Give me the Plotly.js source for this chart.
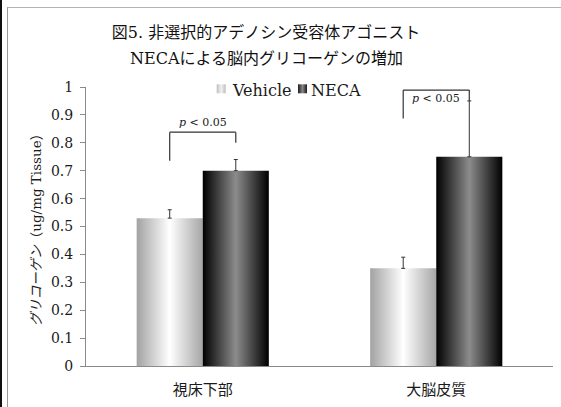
<!DOCTYPE html>
<html>
<head>
<meta charset="utf-8">
<script src="https://cdn.plot.ly/plotly-3.0.1.min.js"></script>
<style>
  html, body { margin: 0; padding: 0; background: #fff; overflow: hidden; width: 561px; height: 407px; }
  #wrap { position: relative; width: 561px; height: 407px; overflow: hidden; }
  #chart { position: absolute; left: 0; top: 0; width: 561px; height: 407px; }
  #frame { position: absolute; left: 7px; top: 7px; width: 600px; height: 450px;
           border-left: 1px solid #9a9a9a; border-top: 1px solid #b4b4b4; pointer-events: none; }
  #strip { position: absolute; left: 0; top: 0; width: 2px; height: 407px; background: #111; }
</style>
</head>
<body>
<div id="wrap">
  <div id="chart"></div>
  <div id="frame"></div>
  <div id="strip"></div>
</div>
<script>
// Brain regions and glycogen content (ug/mg tissue), mean and SEM
const categories = ['視床下部', '大脳皮質'];
const vehicleValues = [0.53, 0.35];
const vehicleErrors = [0.03, 0.04];
const necaValues = [0.70, 0.75];
const necaErrors = [0.04, 0.20];
const seriesNames = ['Vehicle', 'NECA'];
const yTickValues = [0, 0.1, 0.2, 0.3, 0.4, 0.5, 0.6, 0.7, 0.8, 0.9, 1];
const titleLines = ['図5. 非選択的アデノシン受容体アゴニスト', 'NECAによる脳内グリコーゲンの増加'];
const sigLabel = '<i>p</i> &lt; 0.05';

const SERIF = '"DejaVu Serif", "Noto Sans CJK JP", serif';
const CJK = '"Noto Sans CJK JP", "DejaVu Serif", sans-serif';

// plot area geometry (px) used to place the hand-made legend and title
const M = { l: 86, r: 8, t: 87, b: 41 };
const W = 561, H = 407;
const PW = W - M.l - M.r, PH = H - M.t - M.b;
const px2x = px => (px - M.l) / PW;
const px2y = py => (H - M.b - py) / PH;

const BARGAP = 0.434;
const off = (1 - BARGAP) / 4;   // centre offset of each bar in its group

// flat placeholder colours, swapped for gradients after drawing
const VEH_KEY = '#c9c9c9';
const NECA_KEY = '#3d3d3d';
const VEH_ICON_KEY = '#cacaca';
const NECA_ICON_KEY = '#3e3e3e';

const errStyle = { type: 'data', symmetric: false, visible: true, color: '#333', thickness: 1, width: 2 };

const traces = [
  {
    type: 'bar', name: seriesNames[0], x: categories, y: vehicleValues,
    marker: { color: VEH_KEY, line: { width: 0 } },
    error_y: Object.assign({ array: vehicleErrors, arrayminus: vehicleErrors.map(() => 0) }, errStyle),
    showlegend: false, hoverinfo: 'skip'
  },
  {
    type: 'bar', name: seriesNames[1], x: categories, y: necaValues,
    marker: { color: NECA_KEY, line: { width: 0 } },
    error_y: Object.assign({ array: necaErrors, arrayminus: necaErrors.map(() => 0) }, errStyle),
    showlegend: false, hoverinfo: 'skip'
  }
];

// significance brackets: [category index, top, left foot, right foot, label y]
const brackets = [
  [0, 0.838, 0.736, 0.800, 0.873],
  [1, 0.989, 0.887, 0.950, 0.960]
];

const shapes = [];
const annotations = [];
const bracketLine = { color: '#333', width: 1.2 };
brackets.forEach(([c, top, lf, rf, ty]) => {
  const xl = c - off, xr = c + off;
  shapes.push({ type: 'line', xref: 'x', yref: 'y', x0: xl, x1: xl, y0: lf, y1: top, line: bracketLine });
  shapes.push({ type: 'line', xref: 'x', yref: 'y', x0: xl, x1: xr, y0: top, y1: top, line: bracketLine });
  shapes.push({ type: 'line', xref: 'x', yref: 'y', x0: xr, x1: xr, y0: top, y1: rf, line: bracketLine });
  annotations.push({
    xref: 'x', yref: 'y', x: c, y: ty, text: sigLabel, showarrow: false,
    xanchor: 'center', yanchor: 'middle',
    font: { family: SERIF, size: 11, color: '#222' }
  });
});

// second title line, set a little lower than plotly's own line spacing
annotations.push({
  xref: 'paper', yref: 'paper', x: px2x(266), y: px2y(58),
  xanchor: 'center', yanchor: 'middle', showarrow: false,
  text: titleLines[1], font: { family: SERIF, size: 16, color: '#111' }
});

// legend: small gradient swatches followed by series names
const legendItems = [
  { key: VEH_ICON_KEY, x0: 216.7, textX: 231.7, label: seriesNames[0] },
  { key: NECA_ICON_KEY, x0: 298, textX: 310.7, label: seriesNames[1] }
];
legendItems.forEach(it => {
  shapes.push({
    type: 'rect', xref: 'paper', yref: 'paper',
    x0: px2x(it.x0), x1: px2x(it.x0 + 9), y0: px2y(93.3), y1: px2y(84.3),
    fillcolor: it.key, line: { width: 0 }
  });
  annotations.push({
    xref: 'paper', yref: 'paper', x: px2x(it.textX), y: px2y(90),
    xanchor: 'left', yanchor: 'middle', xshift: -2, showarrow: false,
    text: it.label, font: { family: SERIF, size: 16, color: '#1a1a1a' }
  });
});

const layout = {
  width: W, height: H,
  margin: M,
  paper_bgcolor: '#fff', plot_bgcolor: '#fff',
  barmode: 'group', bargap: BARGAP, bargroupgap: 0,
  showlegend: false,
  title: {
    text: titleLines[0],
    font: { family: SERIF, size: 16, color: '#111' },
    x: 266 / W, xanchor: 'center', xref: 'container',
    y: 1 - 32.5 / H, yanchor: 'middle', yref: 'container'
  },
  xaxis: {
    type: 'category', showgrid: false, zeroline: false,
    showline: true, linecolor: '#8a8a8a', linewidth: 1,
    ticks: '', ticklabelstandoff: 10,
    tickfont: { family: CJK, size: 15, color: '#1a1a1a' },
    fixedrange: true
  },
  yaxis: {
    range: [0, 1], tickvals: yTickValues, ticktext: yTickValues.map(String),
    showgrid: false, zeroline: false,
    showline: true, linecolor: '#8a8a8a', linewidth: 1,
    ticks: 'outside', ticklen: 5, tickcolor: '#8a8a8a', ticklabelstandoff: 4,
    tickfont: { family: SERIF, size: 14, color: '#1a1a1a' },
    title: {
      text: '<i>グリコーゲン</i>（ug/mg Tissue）',
      font: { family: SERIF, size: 13.5, color: '#1a1a1a' },
      standoff: 6
    },
    fixedrange: true
  },
  shapes: shapes,
  annotations: annotations
};

const gradients = {
  [VEH_KEY]: ['gVeh', [[0, '#a2a2a2'], [0.5, '#ffffff'], [1, '#a6a6a6']]],
  [NECA_KEY]: ['gNeca', [[0, '#000000'], [0.5, '#8c8c8c'], [1, '#000000']]],
  [VEH_ICON_KEY]: ['gVehIcon', [[0, '#bdbdbd'], [0.5, '#f2f2f2'], [1, '#bdbdbd']]],
  [NECA_ICON_KEY]: ['gNecaIcon', [[0, '#1a1a1a'], [0.5, '#888888'], [1, '#1a1a1a']]]
};

function rgbOf(hex) {
  const n = parseInt(hex.slice(1), 16);
  return 'rgb(' + (n >> 16) + ', ' + ((n >> 8) & 255) + ', ' + (n & 255) + ')';
}

function applyGradients(gd) {
  const ns = 'http://www.w3.org/2000/svg';
  const svg = gd.querySelector('svg.main-svg');
  let defs = svg.querySelector('defs');
  if (!defs) { defs = document.createElementNS(ns, 'defs'); svg.insertBefore(defs, svg.firstChild); }
  const lookup = {};
  Object.keys(gradients).forEach(key => {
    const [id, stops] = gradients[key];
    const lg = document.createElementNS(ns, 'linearGradient');
    lg.setAttribute('id', id);
    lg.setAttribute('x1', '0'); lg.setAttribute('y1', '0');
    lg.setAttribute('x2', '1'); lg.setAttribute('y2', '0');
    stops.forEach(([o, c]) => {
      const s = document.createElementNS(ns, 'stop');
      s.setAttribute('offset', o);
      s.setAttribute('stop-color', c);
      lg.appendChild(s);
    });
    defs.appendChild(lg);
    lookup[rgbOf(key)] = id;
  });
  gd.querySelectorAll('path').forEach(p => {
    const id = lookup[p.style.fill];
    if (id) p.style.fill = 'url(#' + id + ')';
  });
}

Plotly.newPlot('chart', traces, layout, { staticPlot: true, displayModeBar: false })
  .then(applyGradients);
</script>
</body>
</html>
